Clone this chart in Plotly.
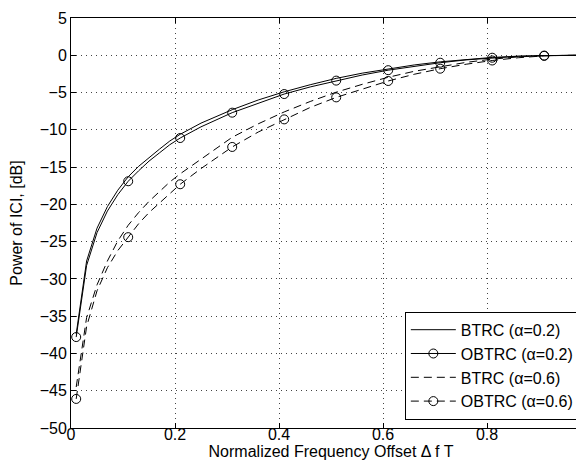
import plotly.graph_objects as go

# Normalized frequency offset (x) samples
x_vals = [0.01, 0.03, 0.05, 0.07, 0.09, 0.11, 0.13, 0.15, 0.17, 0.19, 0.21, 0.25,
          0.31, 0.36, 0.41, 0.46, 0.51, 0.56, 0.61, 0.66, 0.71, 0.76, 0.81, 0.86,
          0.91, 0.96, 1.0]

btrc_02 = [-37.4, -27.6, -23.2, -20.3, -18.1, -16.3, -14.9, -13.7, -12.6, -11.5, -10.6, -9.1,
           -7.3, -6.0, -4.9, -3.95, -3.1, -2.4, -1.8, -1.3, -0.88, -0.55, -0.29, -0.12,
           -0.03, 0.0, 0.0]
obtrc_02 = [-37.8, -28.2, -23.8, -20.9, -18.7, -16.9, -15.5, -14.2, -13.1, -12.0, -11.1, -9.6,
            -7.7, -6.4, -5.2, -4.25, -3.4, -2.65, -2.0, -1.45, -1.0, -0.62, -0.33, -0.14,
            -0.04, 0.0, 0.0]
btrc_06 = [-44.5, -35.2, -30.8, -27.6, -24.9, -22.8, -21.1, -19.6, -18.3, -17.0, -15.9, -13.9,
           -11.0, -9.2, -7.6, -6.2, -4.95, -3.9, -2.95, -2.15, -1.5, -0.95, -0.52, -0.22,
           -0.05, 0.0, 0.0]
obtrc_06 = [-46.1, -36.4, -31.6, -28.5, -26.2, -24.4, -22.6, -21.1, -19.8, -18.5, -17.3, -15.2,
            -12.3, -10.3, -8.6, -7.0, -5.65, -4.5, -3.45, -2.55, -1.8, -1.2, -0.7, -0.33,
            -0.08, 0.0, 0.0]

marker_x = [0.01, 0.11, 0.21, 0.31, 0.41, 0.51, 0.61, 0.71, 0.81, 0.91]

names = ["BTRC (α=0.2)", "OBTRC (α=0.2)", "BTRC (α=0.6)", "OBTRC (α=0.6)"]
x_ticks = [0, 0.2, 0.4, 0.6, 0.8, 1]
y_ticks = [-50, -45, -40, -35, -30, -25, -20, -15, -10, -5, 0, 5]

FONT = "Liberation Sans, Arial, Helvetica, sans-serif"
DASH = "8px,5px"

series = [
    (names[0], btrc_02, "solid", False),
    (names[1], obtrc_02, "solid", True),
    (names[2], btrc_06, DASH, False),
    (names[3], obtrc_06, DASH, True),
]

fig = go.Figure()
for name, ys, dash, has_markers in series:
    fig.add_trace(go.Scatter(x=x_vals, y=ys, mode="lines", showlegend=False,
                             line=dict(color="black", width=1, dash=dash),
                             hoverinfo="skip"))
    if has_markers:
        mx = [x for x in x_vals if any(abs(x - m) < 1e-9 for m in marker_x)]
        my = [y for x, y in zip(x_vals, ys) if any(abs(x - m) < 1e-9 for m in marker_x)]
        fig.add_trace(go.Scatter(x=mx, y=my, mode="markers", showlegend=False,
                                 marker=dict(symbol="circle-open", size=9, color="black",
                                             line=dict(width=1, color="black"))))
    fig.add_trace(go.Scatter(x=[None], y=[None], name=name,
                             mode="lines+markers" if has_markers else "lines",
                             line=dict(color="black", width=1, dash=dash),
                             marker=dict(symbol="circle-open", size=9, color="black",
                                         line=dict(width=1, color="black"))))

axis_common = dict(
    showline=True, linecolor="black", linewidth=1, mirror="ticks",
    ticks="inside", ticklen=5, tickwidth=1, tickcolor="black",
    showgrid=True, gridcolor="#444", gridwidth=1, griddash="1px,4px",
    zeroline=False, tickfont=dict(family=FONT, size=16, color="black"),
)

fig.update_xaxes(range=[0, 1], tickvals=x_ticks, ticktext=[str(t) for t in x_ticks],
                 title=dict(text="Normalized Frequency Offset Δ f T",
                            font=dict(family=FONT, size=16, color="black"), standoff=2),
                 **axis_common)
fig.update_yaxes(range=[-50, 5], tickvals=y_ticks,
                 title=dict(text="Power of ICI, [dB]",
                            font=dict(family=FONT, size=16, color="black"), standoff=14),
                 **axis_common)
try:
    fig.update_xaxes(ticklabelstandoff=-8)
except Exception:
    pass

fig.update_layout(
    width=584, height=464,
    margin=dict(l=63, r=1, t=10, b=44),
    paper_bgcolor="white", plot_bgcolor="white",
    font=dict(family=FONT, size=16, color="black"),
    legend=dict(x=0.642, y=0.02, xanchor="left", yanchor="bottom",
                bgcolor="white", bordercolor="black", borderwidth=1,
                font=dict(family=FONT, size=16, color="black"),
                tracegroupgap=0, itemwidth=45),
    showlegend=True,
)

fig.write_html("out.html")
